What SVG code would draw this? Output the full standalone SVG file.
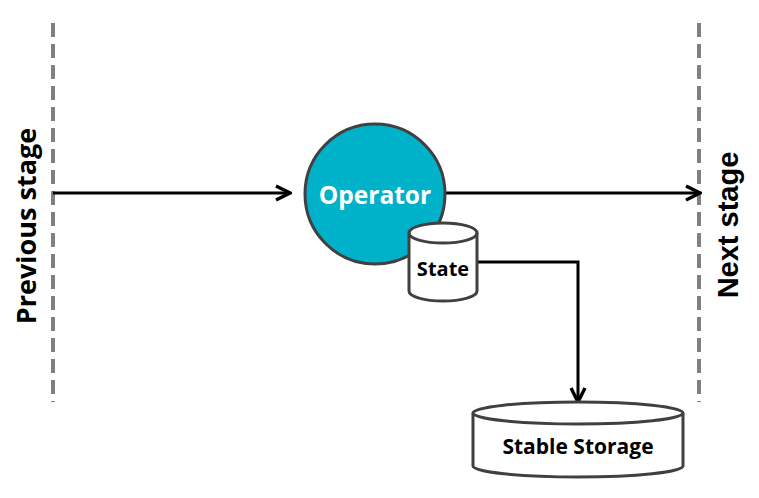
<svg xmlns="http://www.w3.org/2000/svg" width="759" height="498" viewBox="0 0 759 498">
<defs>
<marker id="arr" viewBox="0 0 18 18" refX="16" refY="9" markerWidth="18" markerHeight="18" markerUnits="userSpaceOnUse" orient="auto">
<path d="M2,2 L16,9 L2,16" fill="none" stroke="#000" stroke-width="3.4" stroke-linejoin="miter"/>
</marker>
<style>
.dash{stroke:#808080;stroke-width:4;stroke-dasharray:14 7;fill:none}
.conn{stroke:#000;stroke-width:3;fill:none}
.shape{stroke:#404040;stroke-width:3}
.lbl{font-family:"Open Sans",Lato,sans-serif;font-weight:bold;text-anchor:middle;dominant-baseline:central}
</style>
</defs>
<rect width="759" height="498" fill="#fff"/>
<g id="boundaries">
<line class="dash" x1="53" y1="23" x2="53" y2="402"/>
<line class="dash" x1="699" y1="23" x2="699" y2="402"/>
</g>
<g id="prev-label">
<text class="lbl" font-size="27" transform="translate(25,226) rotate(-90)" fill="#000">Previous stage</text>
</g>
<g id="next-label">
<text font-family="'Liberation Sans',Arial,sans-serif" font-weight="bold" font-size="29" text-anchor="middle" dominant-baseline="central" transform="translate(728,225) rotate(-90)" fill="#000">Next stage</text>
</g>
<g id="connectors">
<line class="conn" x1="53" y1="193" x2="290" y2="193" marker-end="url(#arr)"/>
<line class="conn" x1="445" y1="193" x2="700" y2="193" marker-end="url(#arr)"/>
<polyline class="conn" points="477,262 578,262 578,402" marker-end="url(#arr)"/>
</g>
<g id="operator">
<circle class="shape" cx="375" cy="194" r="70" fill="#00b2c9"/>
<text class="lbl" x="375" y="194" font-size="24.5" fill="#fff">Operator</text>
</g>
<g id="state">
<path class="shape" fill="#fff" d="M409,233 L409,291 A34,10 0 0 0 477,291 L477,233 A34,10 0 0 0 409,233 Z"/>
<path class="shape" fill="none" d="M409,233 A34,10 0 0 0 477,233"/>
<text class="lbl" x="443" y="268" font-size="20" fill="#000">State</text>
</g>
<g id="stable-storage">
<path class="shape" fill="#fff" d="M473,413 L473,466 A105,11 0 0 0 683,466 L683,413 A105,11 0 0 0 473,413 Z"/>
<path class="shape" fill="none" d="M473,413 A105,11 0 0 0 683,413"/>
<text class="lbl" x="578" y="446" font-size="21" fill="#000">Stable Storage</text>
</g>
</svg>
